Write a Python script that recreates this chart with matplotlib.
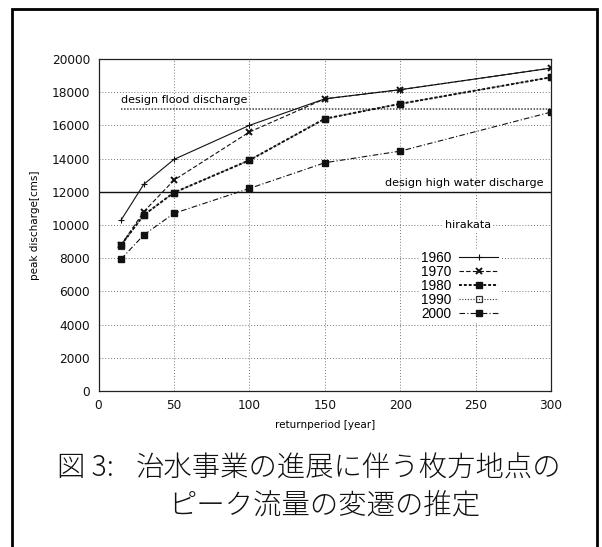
"""Hirakata peak discharge vs return period (fig. 3 recreation)."""

import matplotlib
matplotlib.use("Agg")
import matplotlib.pyplot as plt
from matplotlib.patches import Rectangle

# data
return_period = [15, 30, 50, 100, 150, 200, 300]
peak_1960 = [10300, 12450, 13950, 16000, 17600, 18150, 19450]
peak_1970 = [8800, 10800, 12700, 15600, 17600, 18150, 19450]
peak_1980 = [8800, 10600, 11950, 13900, 16400, 17300, 18900]
peak_1990 = [8750, 10600, 11950, 13900, 16400, 17300, 18900]
peak_2000 = [7950, 9400, 10700, 12200, 13750, 14450, 16800]
year_labels = ["1960", "1970", "1980", "1990", "2000"]

design_flood = 17000
design_flood_span = [15, 300]
design_high_water = 12000

x_ticks = [0, 50, 100, 150, 200, 250, 300]
y_ticks = list(range(0, 20001, 2000))

caption_fig = "図 3:"
caption_line1 = "治水事業の進展に伴う枚方地点の"
caption_line2 = "ピーク流量の変遷の推定"

W, H = 602, 547


def fx(px):
    return px / W


def fy(py):
    return 1 - py / H


plt.rcParams["font.family"] = ["DejaVu Sans"]

fig = plt.figure(figsize=(W / 100, H / 100), dpi=100)
fig.patch.set_facecolor("white")
ax = fig.add_axes([fx(98.5), fy(391), fx(551) - fx(98.5), fy(59) - fy(391)])

ax.set_xlim(0, 300)
ax.set_ylim(0, 20000)
ax.set_xticks(x_ticks)
ax.set_yticks(y_ticks)
ax.tick_params(length=0, labelsize=8.7, colors="#111")
ax.tick_params(axis="y", pad=6)
ax.tick_params(axis="x", pad=6)
ax.grid(True, color="#777777", linestyle=(0, (1, 2)), linewidth=0.7)
ax.set_axisbelow(True)
for sp in ax.spines.values():
    sp.set_color("#222222")
    sp.set_linewidth(0.9)

ax.set_xlabel("returnperiod [year]", fontsize=7.5)
ax.set_ylabel("peak discharge[cms]", fontsize=7.5)
ax.xaxis.set_label_coords(0.5, (391 - 420) / 332)
ax.yaxis.set_label_coords((40 - 98.5) / 452.5, 0.5)

# design discharge levels
ax.plot(design_flood_span, [design_flood] * 2, color="#444444", lw=1.1,
        ls=(0, (1, 1)), zorder=1.5)
ax.axhline(design_high_water, color="#111111", lw=1.0, zorder=1.5)
ax.text(15, 17550, "design flood discharge", ha="left", va="center", fontsize=8)
ax.text(295, 12530, "design high water discharge", ha="right", va="center", fontsize=8)

h1990, = ax.plot(return_period, peak_1990, color="#333333", lw=0.8, ls=(0, (1, 1.5)),
                 marker="s", ms=5, mfc="none", mew=0.9)
h1960, = ax.plot(return_period, peak_1960, color="#111111", lw=0.8, ls="-",
                 marker="+", ms=5, mew=0.8)
h1970, = ax.plot(return_period, peak_1970, color="#111111", lw=0.8, ls=(0, (4, 2)),
                 marker="x", ms=5, mew=1.4)
h1980, = ax.plot(return_period, peak_1980, color="#111111", lw=1.4, ls=(0, (1.5, 1)),
                 marker="s", ms=5)
h2000, = ax.plot(return_period, peak_2000, color="#111111", lw=0.8, ls=(0, (5, 2, 1, 2)),
                 marker="s", ms=4.5)

ax.text(244.7, 10000, "hirakata", ha="center", va="center", fontsize=8,
        bbox=dict(facecolor="white", edgecolor="none", pad=1))

leg = ax.legend([h1960, h1970, h1980, h1990, h2000], year_labels,
                loc="upper left", bbox_to_anchor=(fx(419), fy(249)),
                bbox_transform=fig.transFigure, markerfirst=False,
                prop={"family": "Liberation Sans", "size": 9.8},
                handlelength=2.9, handletextpad=0.55, labelspacing=0.0,
                borderpad=0.15, borderaxespad=0, frameon=True, fancybox=False)
leg.get_frame().set_facecolor("white")
leg.get_frame().set_edgecolor("none")
leg.get_frame().set_alpha(1)

# caption
cjk = ["Noto Sans CJK JP", "DejaVu Sans"]
fig.text(fx(57), fy(468), caption_fig, ha="left", va="center", fontsize=20.4,
         family=cjk, weight="light", color="#111")
fig.text(fx(136), fy(468), caption_line1, ha="left", va="center", fontsize=20.4,
         family=cjk, weight="light", color="#111")
fig.text(fx(324), fy(506), caption_line2, ha="center", va="center", fontsize=20.4,
         family=cjk, weight="light", color="#111")

# outer frame
fig.add_artist(Rectangle((fx(12), -0.05), fx(597) - fx(12), fy(9) + 0.05,
                         transform=fig.transFigure, fill=False, lw=2,
                         ec="black", clip_on=False))

fig.savefig("out.png", dpi=100)
